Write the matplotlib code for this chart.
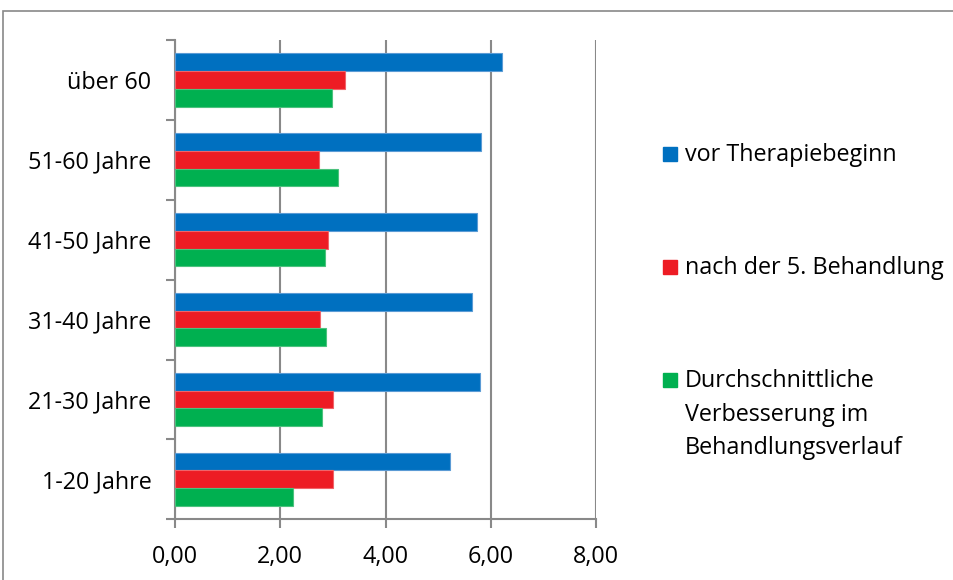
import numpy as np
import matplotlib
matplotlib.use('Agg')
import matplotlib.pyplot as plt
from matplotlib.patches import Rectangle

categories = ['1-20 Jahre', '21-30 Jahre', '31-40 Jahre', '41-50 Jahre', '51-60 Jahre', 'über 60']
vor = [5.23, 5.79, 5.64, 5.74, 5.82, 6.20]
nach = [3.00, 3.00, 2.76, 2.90, 2.73, 3.22]
verbesserung = [2.24, 2.79, 2.87, 2.84, 3.09, 2.99]
series_names = ['vor Therapiebeginn', 'nach der 5. Behandlung',
                'Durchschnittliche\nVerbesserung im\nBehandlungsverlauf']
colors = ['#0070C0', '#ED1C24', '#00B050']
edges = ['#5B9BD5', '#F0646A', '#4CC27E']
xticks = [0, 2, 4, 6, 8]
xticklabels = ['0,00', '2,00', '4,00', '6,00', '8,00']

plt.rcParams['font.family'] = ['Open Sans', 'DejaVu Sans']
W, H = 954, 580
fs = 16.8
fig = plt.figure(figsize=(W/100, H/100), dpi=100)

# outer chart border
fig.patches.append(Rectangle((3.5/W, -0.1), 1.2, 1 - 10.7/H + 0.1, transform=fig.transFigure,
                             fill=False, edgecolor='#898989', lw=1.2))

ax = fig.add_axes([175/W, (H-519.3)/H, (596.3-175)/W, (519.3-40)/H])

y = np.arange(len(categories))
h = 0.222
for vals, off, c, e in zip([vor, nach, verbesserung], [h, 0, -h], colors, edges):
    ax.barh(y + off, vals, height=h, color=c, edgecolor=e, lw=0.8, zorder=3)

ax.set_xlim(0, 8)
ax.set_ylim(-0.5, len(categories) - 0.5)
ax.set_xticks(xticks)
ax.set_xticklabels(xticklabels, fontsize=fs)
ax.set_yticks(np.arange(-0.5, len(categories)))
ax.set_yticklabels([])
ax.set_yticks(y, minor=True)
ax.set_yticklabels(categories, minor=True, fontsize=fs)
ax.tick_params(axis='y', which='major', length=6.5, width=1.5, color='#898989', direction='out')
ax.tick_params(axis='y', which='minor', length=0, pad=17)
ax.tick_params(axis='x', length=6.5, width=1.5, color='#898989', direction='out', pad=12)
ax.grid(axis='x', color='#898989', lw=1.5, zorder=1)
for s in ['top', 'right']:
    ax.spines[s].set_visible(False)
for s in ['left', 'bottom']:
    ax.spines[s].set_color('#898989')
    ax.spines[s].set_linewidth(1.5)

# legend
leg_y = [154, 266.7, 380]
for name, c, yy in zip(series_names, colors, leg_y):
    fig.patches.append(Rectangle((663/W, (H-yy-7)/H), 14/W, 14/H, transform=fig.transFigure,
                                 color=c))
    fig.text(685/W, (H-yy+11)/H, name, fontsize=fs, va='top', ha='left',
             linespacing=1.53)

fig.savefig('out.png', dpi=100)
